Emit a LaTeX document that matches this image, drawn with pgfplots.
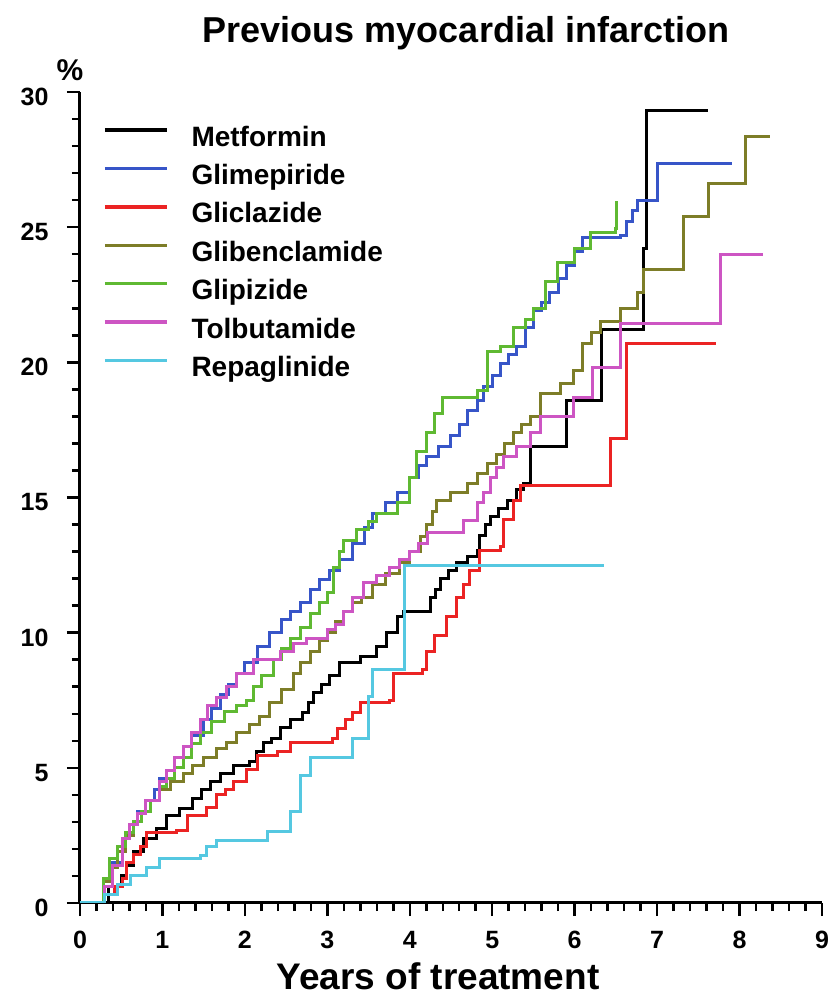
\documentclass[border=0pt]{standalone}
\usepackage{fontspec}
\setmainfont{Liberation Sans}
\usepackage{pgfplots}
\pgfplotsset{compat=1.18}
\definecolor{cBlack}{RGB}{0,0,0}
\definecolor{cBlue}{RGB}{55,85,200}
\definecolor{cRed}{RGB}{235,35,35}
\definecolor{cOlive}{RGB}{125,125,40}
\definecolor{cGreen}{RGB}{95,185,50}
\definecolor{cPink}{RGB}{205,85,195}
\definecolor{cCyan}{RGB}{85,200,225}
\begin{document}
\begin{tikzpicture}[x=1pt,y=1pt]
\path (0,0) rectangle (833,996);
\begin{axis}[
  at={(80pt,93pt)}, anchor=south west,
  scale only axis, width=742pt, height=811pt,
  xmin=0, xmax=9, ymin=0, ymax=30,
  axis x line=bottom, axis y line=left,
  axis line style={-, line width=3pt},
  xtick={0,1,...,9}, ytick={0,5,...,30},
  minor x tick num=4, minor y tick num=4,
  tick align=outside,
  major tick length=13pt, minor tick length=8pt,
  every tick/.style={black, line width=2.5pt},
  /pgf/number format/assume math mode=true,
  ticklabel style={font=\bfseries\fontsize{25}{25}\selectfont},
  xticklabel style={yshift=-12pt},
  yticklabel style={xshift=-15pt, yshift=-5pt},
  legend style={at={(0.031,0.958)}, anchor=north west, draw=none, fill=none,
    inner sep=0pt, outer sep=0pt, row sep=12.4pt,
    font=\bfseries\fontsize{28}{28}\selectfont,
    nodes={inner sep=0pt, text height=20pt, text depth=6pt},
    /tikz/every odd column/.style={column sep=23pt}},
  legend cell align=left,
  legend image code/.code={\draw[#1, line width=3.5pt] (0pt,9pt) -- (62pt,9pt);},
  every axis plot/.append style={const plot, line width=3pt},
]
\addplot[cBlack] coordinates {
(0,0) (0.2,0) (0.35,0.6) (0.5,1.0) (0.57,1.4) (0.65,1.9) (0.77,2.4) (0.93,2.75)
(1.05,3.25) (1.21,3.5) (1.37,3.85) (1.47,4.2) (1.58,4.5) (1.7,4.8) (1.86,5.1)
(2.06,5.25) (2.14,5.6) (2.22,5.95) (2.32,6.1) (2.43,6.5) (2.55,6.8) (2.7,7.05)
(2.77,7.4) (2.83,7.8) (2.93,8.1) (3.03,8.4) (3.15,8.9) (3.4,9.1) (3.6,9.5)
(3.72,10.0) (3.85,10.6) (3.92,10.8) (4.25,11.3) (4.31,11.6) (4.37,12.0)
(4.47,12.3) (4.57,12.6) (4.7,12.8) (4.82,13.05) (4.85,13.6) (4.92,14.0)
(4.98,14.3) (5.08,14.6) (5.18,14.9) (5.3,15.3) (5.38,15.5) (5.46,16.9)
(5.9,18.6) (6.33,21.2) (6.83,24.2) (6.87,29.3) (7.62,29.3)
};
\addlegendentry{Metformin}
\addplot[cBlue] coordinates {
(0,0) (0.2,0) (0.3,0.6) (0.4,1.5) (0.52,2.4) (0.6,2.9) (0.7,3.4) (0.8,3.8)
(0.9,4.2) (0.97,4.6) (1.05,4.9) (1.15,5.4) (1.25,5.8) (1.35,6.2) (1.5,6.8)
(1.6,7.2) (1.7,7.7) (1.8,8.1) (1.9,8.5) (2.0,8.9) (2.15,9.5) (2.3,10.0)
(2.45,10.5) (2.55,10.8) (2.67,11.1) (2.8,11.6) (2.9,11.95) (3.03,12.3)
(3.15,12.7) (3.3,13.3) (3.45,13.9) (3.55,14.4) (3.7,14.8) (3.85,15.2)
(4.0,15.75) (4.1,16.2) (4.2,16.5) (4.35,16.9) (4.5,17.3) (4.6,17.7)
(4.7,18.2) (4.82,18.6) (4.9,19.1) (5.0,19.5) (5.1,19.95) (5.2,20.3)
(5.3,20.6) (5.4,21.3) (5.5,21.9) (5.6,22.2) (5.7,22.6) (5.8,23.1)
(5.9,23.6) (6.0,24.1) (6.1,24.6) (6.55,24.7) (6.63,25.2) (6.7,25.6)
(6.76,26.0) (7.0,27.35) (7.91,27.35)
};
\addlegendentry{Glimepiride}
\addplot[cRed] coordinates {
(0,0) (0.2,0) (0.3,0.3) (0.42,0.6) (0.52,0.9) (0.57,1.5) (0.65,1.8)
(0.73,2.1) (0.81,2.6) (1.17,2.7) (1.3,3.25) (1.54,3.55) (1.66,4.0)
(1.76,4.2) (1.86,4.5) (2.02,4.95) (2.15,5.45) (2.39,5.6) (2.55,5.95)
(3.06,6.1) (3.12,6.45) (3.22,6.8) (3.31,7.05) (3.4,7.4) (3.76,7.5)
(3.8,8.5) (4.16,8.65) (4.2,9.3) (4.3,9.9) (4.45,10.6) (4.57,11.3)
(4.65,11.8) (4.73,12.3) (4.85,13.05) (5.1,13.2) (5.14,14.2) (5.26,14.9)
(5.34,15.45) (6.43,17.2) (6.63,20.7) (7.72,20.7)
};
\addlegendentry{Gliclazide}
\addplot[cOlive] coordinates {
(0,0) (0.2,0) (0.28,0.8) (0.36,1.3) (0.45,1.9) (0.55,2.5) (0.65,3.0)
(0.75,3.4) (0.85,3.8) (0.97,4.2) (1.1,4.5) (1.25,4.8) (1.37,5.1) (1.5,5.4)
(1.65,5.7) (1.78,5.95) (1.9,6.3) (2.05,6.6) (2.18,6.9) (2.3,7.4) (2.45,7.9)
(2.59,8.5) (2.67,8.9) (2.8,9.3) (2.9,9.7) (3.0,10.0) (3.1,10.4) (3.2,10.8)
(3.3,11.1) (3.42,11.3) (3.55,11.8) (3.7,12.2) (3.88,12.6) (4.0,13.0)
(4.13,13.55) (4.2,14.0) (4.27,14.5) (4.33,14.9) (4.5,15.2) (4.7,15.5)
(4.82,15.9) (4.94,16.25) (5.05,16.6) (5.15,17.0) (5.26,17.4) (5.35,17.7)
(5.46,18.0) (5.58,18.85) (5.83,19.2) (5.98,19.7) (6.1,20.7) (6.2,21.1)
(6.31,21.5) (6.55,22.0) (6.76,22.6) (6.83,23.45) (7.32,25.4) (7.62,26.6)
(8.07,28.35) (8.37,28.35)
};
\addlegendentry{Glibenclamide}
\addplot[cGreen] coordinates {
(0,0) (0.2,0) (0.28,0.9) (0.36,1.65) (0.45,2.1) (0.55,2.6) (0.65,3.0)
(0.75,3.4) (0.85,3.8) (0.97,4.3) (1.05,4.6) (1.15,5.0) (1.25,5.4)
(1.35,5.9) (1.46,6.3) (1.6,6.7) (1.75,7.1) (1.9,7.3) (2.02,7.5) (2.1,8.0)
(2.2,8.4) (2.35,9.0) (2.45,9.4) (2.55,9.8) (2.67,10.2) (2.8,10.7)
(2.9,11.1) (3.0,11.5) (3.07,12.4) (3.15,13.0) (3.2,13.4) (3.35,13.8)
(3.5,14.1) (3.6,14.4) (3.85,14.8) (4.0,15.75) (4.08,16.7) (4.2,17.4)
(4.3,18.1) (4.4,18.7) (4.82,18.95) (4.94,20.4) (5.1,20.6) (5.26,21.3)
(5.4,21.6) (5.5,22.0) (5.65,23.0) (5.79,23.7) (6.0,24.2) (6.19,24.8)
(6.5,24.95) (6.51,25.95)
};
\addlegendentry{Glipizide}
\addplot[cPink] coordinates {
(0,0) (0.2,0) (0.3,0.6) (0.4,1.4) (0.52,2.4) (0.6,2.9) (0.7,3.3) (0.8,3.8)
(0.97,4.5) (1.05,4.9) (1.15,5.4) (1.25,5.8) (1.35,6.3) (1.46,6.8)
(1.55,7.3) (1.65,7.6) (1.78,8.0) (1.9,8.5) (2.1,9.0) (2.43,9.3)
(2.59,9.6) (2.75,9.8) (3.0,10.1) (3.1,10.3) (3.2,10.8) (3.3,11.3)
(3.44,11.85) (3.6,12.1) (3.75,12.4) (3.88,12.7) (4.0,13.0) (4.1,13.3)
(4.21,13.7) (4.65,14.15) (4.82,14.8) (4.9,15.2) (4.98,15.75) (5.05,16.1)
(5.14,16.5) (5.3,16.9) (5.46,17.4) (5.58,18.0) (5.98,18.7) (6.22,19.8)
(6.55,21.45) (7.77,24.0) (8.29,24.0)
};
\addlegendentry{Tolbutamide}
\addplot[cCyan] coordinates {
(0,0) (0.2,0) (0.3,0.3) (0.45,0.67) (0.61,1.03) (0.81,1.3) (0.97,1.65)
(1.46,1.77) (1.54,2.1) (1.66,2.3) (2.27,2.65) (2.55,3.4) (2.67,4.7)
(2.8,5.4) (3.3,6.07) (3.5,7.65) (3.55,8.65) (3.94,12.5) (6.35,12.5)
};
\addlegendentry{Repaglinide}
\end{axis}
\node[font=\bfseries\fontsize{36}{36}\selectfont, anchor=base, inner sep=0pt] at (466,953) {Previous myocardial infarction};
\node[font=\bfseries\fontsize{30}{30}\selectfont, inner sep=0pt] at (70,926) {\%};
\node[font=\bfseries\fontsize{37}{37}\selectfont, anchor=base, inner sep=0pt] at (438,6) {Years of treatment};
\end{tikzpicture}
\end{document}
